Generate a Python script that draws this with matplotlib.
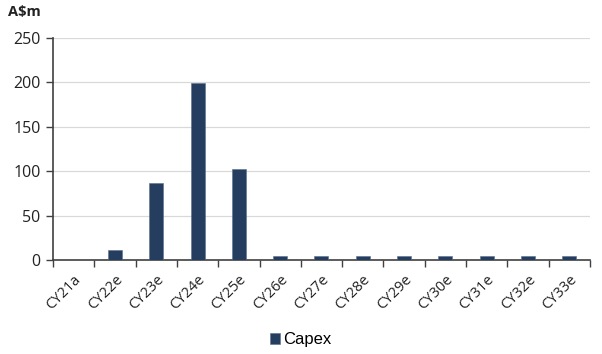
import matplotlib
matplotlib.use("Agg")
import matplotlib.pyplot as plt
import numpy as np

categories = ["CY21a", "CY22e", "CY23e", "CY24e", "CY25e", "CY26e", "CY27e",
              "CY28e", "CY29e", "CY30e", "CY31e", "CY32e", "CY33e"]
capex = [0, 11, 87, 199, 102, 5, 5, 5, 5, 5, 5, 5, 5]
y_ticks = [0, 50, 100, 150, 200, 250]

bar_color = "#253E5F"
axis_color = "#404040"

fig = plt.figure(figsize=(6.02, 3.54), dpi=100)
ax = fig.add_axes([0.088, 0.2655, 0.892, 0.6272])

x = np.arange(len(categories))
ax.bar(x, capex, width=0.34, color=bar_color, edgecolor="#5a6f8c",
       linewidth=0.4, label="Capex", zorder=3)

ax.set_xlim(-0.5, len(categories) - 0.5)
ax.set_ylim(0, 250)
ax.set_yticks(y_ticks)
ax.set_yticklabels([str(v) for v in y_ticks], fontsize=11.5,
                   family="Open Sans", color="#222222")
ax.yaxis.grid(True, color="#d9d9d9", linewidth=0.9, zorder=0)
ax.set_axisbelow(True)

ax.set_xticks(x)
ax.set_xticklabels(categories, rotation=45, ha="right", va="top",
                   rotation_mode="anchor", fontsize=10.5,
                   family="Open Sans", color="#222222")
ax.tick_params(axis="x", which="major", length=0, pad=9)
ax.set_xticks(np.arange(-0.5, len(categories) - 0.4, 1), minor=True)
ax.tick_params(axis="x", which="minor", length=5, width=1, color=axis_color)
ax.tick_params(axis="y", length=5, width=1, color=axis_color, pad=4)

for side in ["top", "right"]:
    ax.spines[side].set_visible(False)
for side in ["left", "bottom"]:
    ax.spines[side].set_color(axis_color)
    ax.spines[side].set_linewidth(1.2)

fig.text(0.013, 0.965, "A$m", fontsize=10.5, fontweight="bold",
         family="Open Sans", ha="left", va="center", color="#222222")

fig.legend(loc="center", bbox_to_anchor=(0.5, 0.04), frameon=False,
           handlelength=0.6, handleheight=0.6, handletextpad=0.2,
           prop={"family": "Liberation Sans", "size": 12})

fig.savefig("out.png", dpi=100)
